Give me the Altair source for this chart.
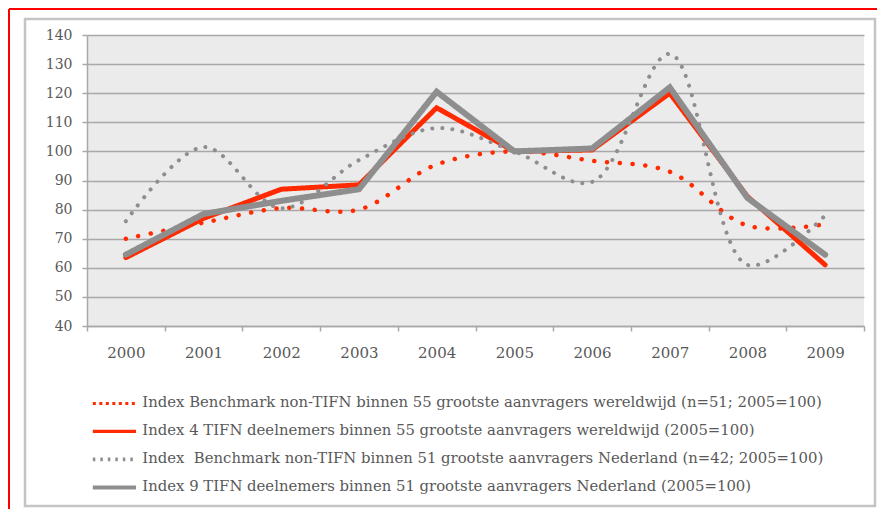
import altair as alt
import pandas as pd

years = [2000, 2001, 2002, 2003, 2004, 2005, 2006, 2007, 2008, 2009]
bench_world = [70, 75.5, 80.5, 80, 95.5, 100, 96.8, 93, 74.5, 75]
tifn_world = [63.5, 77, 87, 88.5, 115, 100, 100.5, 120, 84.5, 61]
bench_nl = [76, 101.5, 80.5, 97, 108, 100, 89.5, 133.5, 61, 78]
tifn_nl = [64.5, 78.5, 83, 87, 120.5, 100, 101, 122, 84, 64.5]

series_names = [
    "Index Benchmark non-TIFN binnen 55 grootste aanvragers wereldwijd (n=51; 2005=100)",
    "Index 4 TIFN deelnemers binnen 55 grootste aanvragers wereldwijd (2005=100)",
    "Index\u00a0 Benchmark non-TIFN binnen 51 grootste aanvragers Nederland (n=42; 2005=100)",
    "Index 9 TIFN deelnemers binnen 51 grootste aanvragers Nederland (2005=100)",
]
series_values = [bench_world, tifn_world, bench_nl, tifn_nl]
series_colors = ["#ff2a00", "#ff2a00", "#8e8e8e", "#8e8e8e"]
legend_dashes = [[3, 3.5], [1, 0], [2.5, 5], [1, 0]]
legend_widths = [3, 4, 2.5, 4]
y_ticks = list(range(40, 150, 10))
x_bounds = [y - 0.5 for y in years] + [years[-1] + 0.5]

rows = []
for name, vals in zip(series_names, series_values):
    for yr, v in zip(years, vals):
        rows.append({"year": yr, "value": v, "series": name})
df = pd.DataFrame(rows)

W, H = 777, 291
band = W / len(years)
TXT = "#595959"
GRID = "#a8a8a8"
FONT = "DejaVu Serif"

x_enc = alt.X(
    "year:Q",
    scale=alt.Scale(domain=[x_bounds[0], x_bounds[-1]], nice=False, zero=False),
    axis=alt.Axis(
        values=x_bounds, title=None, grid=False,
        labelExpr="datum.value < 2009 ? '' + (datum.value + 0.5) : ''",
        labelOffset=band / 2, labelFlush=False, labelOverlap=False, labelBound=False,
        tickSize=5, tickColor=GRID, tickWidth=1.5, domainColor=GRID, domainWidth=1.5,
        labelPadding=14, labelFont=FONT, labelFontSize=15, labelColor=TXT,
    ),
)
y_enc = alt.Y(
    "value:Q",
    scale=alt.Scale(domain=[40, 140], nice=False, zero=False),
    axis=alt.Axis(
        values=y_ticks, title=None, grid=True, gridColor=GRID, gridWidth=1.5,
        tickSize=5, tickColor=GRID, tickWidth=1.5, domainColor=GRID, domainWidth=1.5,
        labelPadding=10, labelFont=FONT, labelFontSize=14, labelColor=TXT,
    ),
)

# short horizontal stroke drawn as a custom path, so the legend rows stay compact
legend = alt.Legend(
    title=None, orient="none", legendX=20, legendY=361, direction="vertical",
    symbolType="M-5.4,0H5.4", symbolSize=64, symbolStrokeWidth=4,
    labelFont=FONT, labelFontSize=14.85, labelColor=TXT, labelLimit=900,
    labelOffset=20.5, rowPadding=12, padding=0,
)
color_enc = alt.Color("series:N", scale=alt.Scale(domain=series_names, range=series_colors), legend=legend)
dash_enc = alt.StrokeDash("series:N", scale=alt.Scale(domain=series_names, range=legend_dashes), legend=legend)
width_enc = alt.StrokeWidth("series:N", scale=alt.Scale(domain=series_names, range=legend_widths), legend=legend)

styles = [
    ("catmull-rom", [0.1, 12.7], 4.5),
    ("linear", [1, 0], 5),
    ("catmull-rom", [0.1, 10], 4),
    ("linear", [1, 0], 6),
]

layers = []
frame_data = alt.Data(values=[{"f": 1}])
# outer red page frame (top and left edges visible)
layers.append(
    alt.Chart(frame_data).mark_rule(color="#ff0000", strokeWidth=2).encode(
        x=alt.value(-78), y=alt.value(-26), y2=alt.value(600)
    )
)
layers.append(
    alt.Chart(frame_data).mark_rule(color="#ff0000", strokeWidth=2).encode(
        x=alt.value(-78), x2=alt.value(1000), y=alt.value(-26)
    )
)
layers.append(
    alt.Chart(frame_data).mark_rect(fill="transparent", stroke="#c4c4c4", strokeWidth=2.5).encode(
        x=alt.value(-62), x2=alt.value(788), y=alt.value(-16), y2=alt.value(471)
    )
)
# legend-only layer (no rows drawn): gives the legend its symbol dashes
layers.append(
    alt.Chart(df).transform_filter("false").mark_line().encode(
        x=x_enc, y=y_enc, color=color_enc, strokeDash=dash_enc, strokeWidth=width_enc
    )
)
for name, (interp, dash, width) in zip(series_names, styles):
    layers.append(
        alt.Chart(df).transform_filter(alt.datum.series == name).mark_line(
            interpolate=interp, strokeDash=dash, strokeWidth=width, strokeCap="round"
        ).encode(x=x_enc, y=y_enc, color=color_enc)
    )

chart = alt.layer(*layers).properties(
    width=W, height=H,
    autosize=alt.AutoSizeParams(type="none"),
    padding={"left": 79, "top": 27, "right": 13, "bottom": 183},
    background="white",
).configure_view(fill="#ebebeb", strokeWidth=0)

chart.save("out.html", embed_options={"renderer": "svg", "actions": False})
